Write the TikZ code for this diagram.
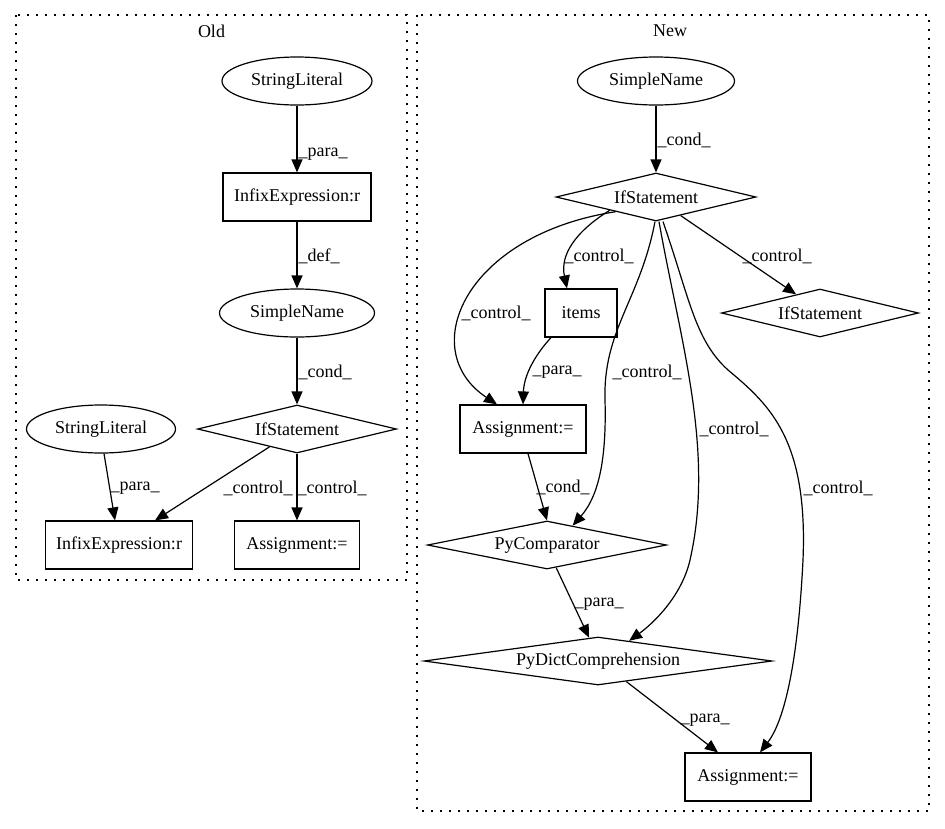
\documentclass[tikz,border=0pt]{standalone}
\usepackage{fontspec}
\setmainfont{Liberation Serif}
\usetikzlibrary{shapes.geometric,arrows.meta}

\begin{document}
\begin{tikzpicture}[x=1pt,y=-1pt,line width=1.2pt,
   every node/.style={font=\fontsize{18}{20}\selectfont},
   oval/.style={draw,ellipse,inner sep=0pt,minimum height=48pt},
   box/.style={draw,rectangle,inner sep=0pt,minimum height=48pt},
   cond/.style={draw,diamond,shape aspect=6,inner sep=0pt,minimum height=48pt},
   edge/.style={-{Triangle[length=13pt,width=11pt]}},
   lbl/.style={anchor=west,inner sep=0pt},
   cluster/.style={dash pattern=on 2pt off 7pt}]
   \useasboundingbox (0,0) rectangle (945,828);

   \draw[cluster] (16,15) rectangle (407,580);
   \draw[cluster] (417,15) rectangle (929,811);
   \node (told) at (211.5,31) {Old};
   \node (tnew) at (670,31) {New};

   \node[oval,minimum width=150pt] (osl1) at (297,81) {StringLiteral};
   \node[box,minimum width=148pt] (oinf1) at (297,197) {InfixExpression:r};
   \node[oval,minimum width=155pt] (osn) at (297,313) {SimpleName};
   \node[cond,minimum width=199pt] (oif) at (297,429) {IfStatement};
   \node[oval,minimum width=149pt] (osl2) at (101,429) {StringLiteral};
   \node[box,minimum width=147pt] (oinf2) at (119,545) {InfixExpression:r};
   \node[box,minimum width=125pt] (oasg) at (297,545) {Assignment:=};

   \draw[edge] (osl1) -- (oinf1);
   \draw[edge] (oinf1) -- (osn);
   \draw[edge] (osn) -- (oif);
   \draw[edge] ([xshift=3pt]osl2.south) -- ([xshift=-4pt]oinf2.north);
   \draw[edge] (oif.213) -- ([xshift=36pt]oinf2.north);
   \draw[edge] (oif) -- (oasg);

   \node[lbl] (lopara) at (298,154) {\_para\_};
   \node[lbl] (lodef) at (298,256) {\_def\_};
   \node[lbl] (locond) at (298,372) {\_cond\_};
   \node[lbl] (lopara2) at (110,488) {\_para\_};
   \node[lbl] (loctrl1) at (223,488) {\_control\_};
   \node[lbl] (loctrl2) at (297,488) {\_control\_};

   \node[oval,minimum width=157pt] (nsn) at (656,81) {SimpleName};
   \node[cond,minimum width=200pt] (nif) at (656,197) {IfStatement};
   \node[box,minimum width=72pt] (nitems) at (581,313) {items};
   \node[cond,minimum width=197pt] (nif2) at (820,313) {IfStatement};
   \node[box,minimum width=126pt] (nasg1) at (523,429) {Assignment:=};
   \node[cond,minimum width=239pt] (ncmp) at (547,545) {PyComparator};
   \node[cond,minimum width=348pt] (ndict) at (598,661) {PyDictComprehension};
   \node[box,minimum width=126pt] (nasg2) at (748,777) {Assignment:=};

   \draw[edge] (nsn) -- (nif);
   \draw[edge] (nif.196) .. controls (575,232) and (560,255) .. ([xshift=-14pt]nitems.north);
   \draw[edge] (nif.200) .. controls (465,235) and (415,350) .. ([xshift=-26pt]nasg1.north);
   \draw[edge] (nif.-37) -- (nif2.142);
   \draw[edge] ([xshift=-1pt]nif.south) .. controls (640,300) and (603,330) .. (605,400)
      .. controls (607,470) and (595,500) .. (ncmp.37);
   \draw[edge] ([xshift=3pt]nif.south) .. controls (680,340) and (715,450) .. (690,560)
      .. controls (682,595) and (655,622) .. (ndict.33.5);
   \draw[edge] ([xshift=7pt]nif.south) .. controls (690,300) and (695,340) .. (728,370)
      .. controls (770,405) and (808,440) .. (803,560)
      .. controls (798,660) and (785,720) .. ([xshift=12pt]nasg2.north);
   \draw[edge] ([xshift=-30pt]nitems.south) .. controls (535,355) and (524,375) .. (nasg1.north);
   \draw[edge] ([xshift=5pt]nasg1.south) -- (ncmp.north);
   \draw[edge] (ncmp.-68) -- (ndict.111.5);
   \draw[edge] (ndict.-36.5) -- ([xshift=-30pt]nasg2.north);

   \node[lbl] (lncond) at (657,140) {\_cond\_};
   \node[lbl] (lnctrl1) at (564,256) {\_control\_};
   \node[lbl] (lnctrl2) at (461,313) {\_control\_};
   \node[lbl] (lnctrl3) at (742,256) {\_control\_};
   \node[lbl] (lnpara1) at (532,372) {\_para\_};
   \node[lbl] (lnctrl4) at (612,372) {\_control\_};
   \node[lbl] (lnctrl5) at (699,429) {\_control\_};
   \node[lbl] (lncond2) at (536,487) {\_cond\_};
   \node[lbl] (lnctrl6) at (803,488) {\_control\_};
   \node[lbl] (lnpara2) at (574,604) {\_para\_};
   \node[lbl] (lnpara3) at (680,720) {\_para\_};
 \end{tikzpicture}
\end{document}
